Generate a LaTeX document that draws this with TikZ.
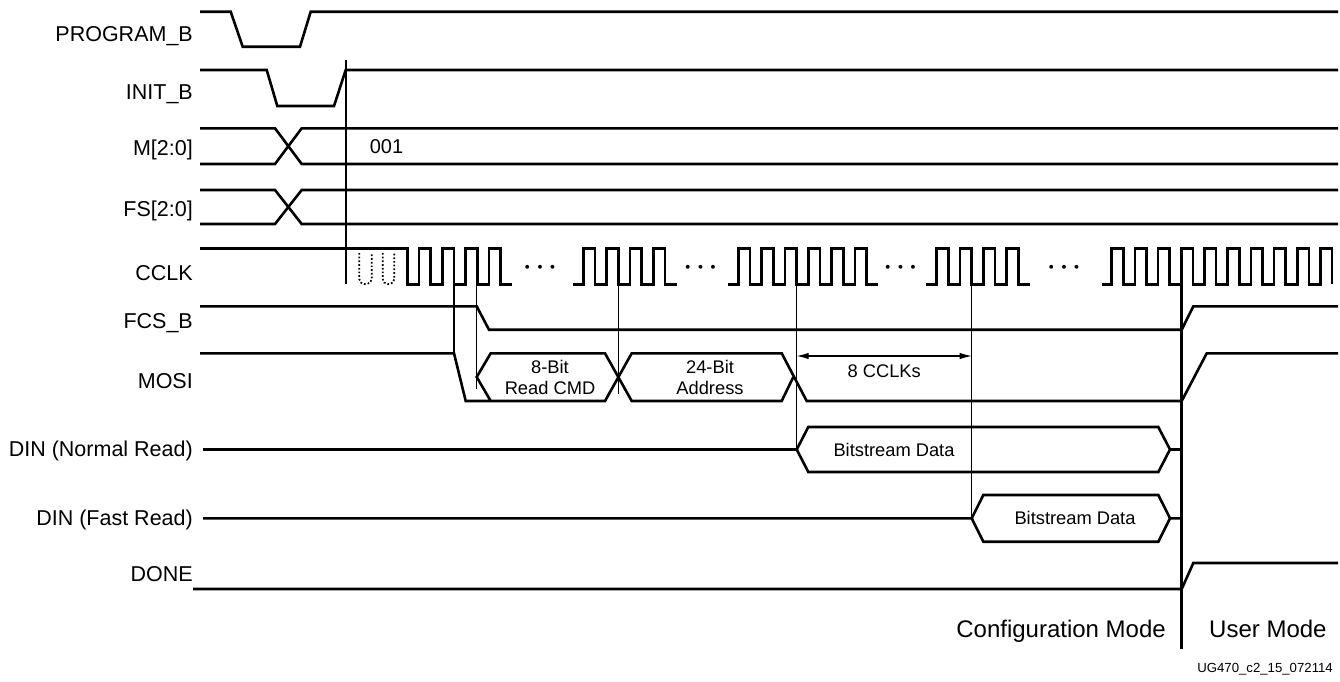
\documentclass[tikz,border=0pt]{standalone}
\usepackage{fontspec}
\setmainfont{Liberation Sans}
\usetikzlibrary{arrows.meta}

\begin{document}
\begin{tikzpicture}[
  x=1pt, y=-1pt,
  sig/.style={line width=2.6pt},
  guide/.style={line width=1.1pt},
  modeline/.style={line width=2.6pt},
  lbl/.style={anchor=base east, inner sep=0pt, font=\fontsize{21.5}{25}\selectfont},
  field/.style={inner sep=0pt, align=center, font=\fontsize{18.3}{21.6}\selectfont},
  ellip/.style={anchor=base, inner sep=0pt, font=\fontsize{27}{30}\selectfont\boldmath},
  measure/.style={{Latex[length=12pt,width=6.5pt]}-{Latex[length=12pt,width=6.5pt]}, line width=1.1pt}
]
\useasboundingbox (0,0) rectangle (1340,681);

\node[lbl] (lprog) at (193,41.9) {PROGRAM\_B};
\node[lbl] (linit) at (193,99.1) {INIT\_B};
\node[lbl] (lmode) at (193,155.3) {M[2:0]};
\node[lbl] (lfs) at (193,216.1) {FS[2:0]};
\node[lbl] (lcclk) at (193,280) {CCLK};
\node[lbl] (lfcs) at (193,328.7) {FCS\_B};
\node[lbl] (lmosi) at (193,388.5) {MOSI};
\node[lbl] (ldinn) at (193,456.8) {DIN (Normal Read)};
\node[lbl] (ldinf) at (193,525.9) {DIN (Fast Read)};
\node[lbl] (ldone) at (193,581) {DONE};

\draw[sig] (200,11.7) -- (230.7,11.7) -- (242.7,46.7) -- (300,46.7) -- (310.7,11.7) -- (1338,11.7);
\draw[sig] (200,70) -- (266.7,70) -- (277.3,106) -- (334,106) -- (345.7,70) -- (1338,70);
\draw[sig] (200,128.3) -- (275,128.3) -- (301.7,164) -- (1338,164);
\draw[sig] (200,164) -- (275,164) -- (301.7,128.3) -- (1338,128.3);
\node[inner sep=0pt, anchor=base, font=\fontsize{20}{24}\selectfont] (mval) at (386.5,153.8) {001};
\draw[sig] (200,190) -- (275,190) -- (301.7,224) -- (1338,224);
\draw[sig] (200,224) -- (275,224) -- (301.7,190) -- (1338,190);

\draw[sig] (200,248.3) -- (407.3,248.3) -- (407.3,284.3)
  \foreach \k in {1,...,4} { -- ++(11.67,0) -- ++(0,-36) -- ++(11.67,0) -- ++(0,36) } -- ++(11.1,0);
\draw[sig] (572.7,284.3) -- (583.3,284.3)
  \foreach \k in {1,...,4} { -- ++(0,-36) -- ++(11.67,0) -- ++(0,36) -- ++(11.67,0) };
\draw[sig] (728.3,284.3) -- (738.3,284.3)
  \foreach \k in {1,...,6} { -- ++(0,-36) -- ++(11.67,0) -- ++(0,36) -- ++(11.67,0) };
\draw[sig] (926,284.3) -- (936.7,284.3)
  \foreach \k in {1,...,4} { -- ++(0,-36) -- ++(11.67,0) -- ++(0,36) -- ++(11.67,0) };
\draw[sig] (1101.7,284.3) -- (1111.7,284.3)
  \foreach \k in {1,...,9} { -- ++(0,-36) -- ++(11.6,0) -- ++(0,36) -- ++(11.6,0) }
  -- ++(0,-36) -- ++(11.6,0) -- ++(0,36);
\draw[dotted, line width=1.7pt, rounded corners=5pt] (359.3,253) -- (359.3,284) -- (371.7,284) -- (371.7,253);
\draw[dotted, line width=1.7pt, rounded corners=5pt] (382.7,253) -- (382.7,284) -- (394.3,284) -- (394.3,253);
\node[ellip] (ell1) at (540,273.5) {$\cdots$};
\node[ellip] (ell2) at (700.5,273.5) {$\cdots$};
\node[ellip] (ell3) at (900.5,273.5) {$\cdots$};
\node[ellip] (ell4) at (1064,273.5) {$\cdots$};

\draw[sig] (200,306.3) -- (476.7,306.3) -- (489,329.7) -- (1181.7,329.7) -- (1193.3,306.3) -- (1338,306.3);

\draw[sig] (200,353.3) -- (454,353.3) -- (465.7,401) -- (605,401) -- (631.7,353.3) -- (781.7,353.3) -- (806.7,401) -- (1181.7,401) -- (1206.7,353.3) -- (1338,353.3);
\draw[sig] (490.7,401) -- (476.7,377) -- (490.7,353.3) -- (605,353.3) -- (631.7,401) -- (781.7,401) -- (793.3,377);
\node[field] (rdcmd) at (550,377.5) {8-Bit\\Read CMD};
\node[field] (addr) at (710,377.5) {24-Bit\\Address};
\draw[measure] (796.7,356) -- node[field, below=8pt] (nclk) {8 CCLKs} (971.7,356);

\draw[sig] (203,449.5) -- (796.7,449.5) -- (808.3,427) -- (1158.3,427) -- (1170,449.5) -- (1181.7,449.5);
\draw[sig] (796.7,449.5) -- (808.3,472) -- (1158.3,472) -- (1170,449.5);
\node[field] (bsn) at (894,449.5) {Bitstream Data};

\draw[sig] (203,518.3) -- (971.7,518.3) -- (983.3,495) -- (1158.3,495) -- (1170,518.3) -- (1181.7,518.3);
\draw[sig] (971.7,518.3) -- (983.3,541.7) -- (1158.3,541.7) -- (1170,518.3);
\node[field] (bsf) at (1075,518.3) {Bitstream Data};

\draw[sig] (193,589) -- (1181.7,589) -- (1193.3,563) -- (1338,563);

\draw[guide] (346,60) -- (346,284.3);
\draw[guide] (454,284.3) -- (454,353.3);
\draw[guide] (476.7,284.3) -- (476.7,389);
\draw[guide] (618.3,284.3) -- (618.3,394);
\draw[guide] (796.7,284.3) -- (796.7,449.5);
\draw[guide] (971.7,284.3) -- (971.7,518.3);
\draw[modeline] (1181.7,284.3) -- (1181.7,649);

\node[anchor=base east, inner sep=0pt, font=\fontsize{24}{28}\selectfont] (cfgmode) at (1166,637.5) {Configuration Mode};
\node[anchor=base west, inner sep=0pt, font=\fontsize{24}{28}\selectfont] (usrmode) at (1209,637.5) {User Mode};
\node[anchor=base east, inner sep=0pt, font=\fontsize{13.2}{16}\selectfont] (figid) at (1333,672.7) {UG470\_c2\_15\_072114};
\end{tikzpicture}
\end{document}
